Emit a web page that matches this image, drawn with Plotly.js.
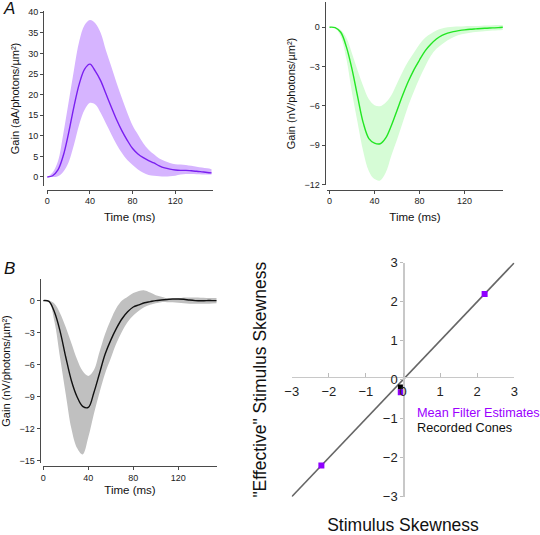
<!DOCTYPE html>
<html>
<head>
<meta charset="utf-8">
<script src="https://cdn.plot.ly/plotly-3.0.1.min.js"></script>
<style>html,body{margin:0;padding:0;background:#fff;}#chart{width:540px;height:535px;}</style>
</head>
<body>
<div id="chart"></div>
<script>
// ---------- DATA ----------
const timeA = [0,5,10,15,20,25,30,35,40,45,50,55,60,65,70,75,80,85,90,95,100,105,110,115,120,125,130,135,140,145,150,154];

// Panel A left (current, purple)
const currentMean  = [0,0.3,1.7,5.2,10.7,17.1,22.6,26.2,27.4,25.7,23.4,20.2,17.0,13.9,11.2,8.9,6.9,5.6,4.7,4.0,3.4,2.7,2.2,1.9,1.7,1.6,1.6,1.5,1.4,1.25,1.1,1.0];
const currentUpper = [0,1.1,3.8,10.5,18.2,26.0,33.0,36.9,38.1,37.3,35.0,30.7,26.8,22.8,19.1,15.6,12.5,10.3,8.2,6.6,5.5,4.5,3.9,3.4,3.1,3.0,2.9,2.7,2.5,2.3,2.1,1.9];
const currentLower = [0,0,0.2,1.3,3.6,7.8,12.8,16.3,18.0,17.6,15.6,13.0,10.4,7.9,5.8,4.1,2.9,1.8,1.0,0.5,0.3,0.2,0.1,0.15,0.3,0.6,0.7,0.7,0.65,0.6,0.6,0.6];

// Panel A right (voltage, green)
const voltMean  = [0,-0.03,-0.38,-1.5,-3.2,-5.3,-7.3,-8.5,-8.85,-8.9,-8.45,-7.5,-6.35,-5.2,-4.15,-3.25,-2.5,-1.8,-1.3,-0.9,-0.62,-0.45,-0.33,-0.26,-0.2,-0.15,-0.12,-0.09,-0.07,-0.05,-0.03,0];
const voltUpper = [0,0,-0.2,-0.8,-2.0,-3.3,-4.5,-5.5,-5.95,-6.03,-5.75,-5.2,-4.3,-3.4,-2.6,-1.95,-1.3,-0.8,-0.5,-0.25,-0.1,0,0.03,0.05,0.07,0.09,0.1,0.12,0.13,0.15,0.17,0.18];
const voltLower = [0,-0.05,-0.7,-2.4,-5.0,-7.3,-9.5,-11.0,-11.6,-11.7,-11.1,-9.8,-8.6,-7.3,-6.0,-4.9,-3.9,-3.0,-2.2,-1.65,-1.3,-1.0,-0.77,-0.6,-0.5,-0.42,-0.36,-0.32,-0.28,-0.25,-0.22,-0.2];

// Panel B (black / gray)
const timeB = [0,5,10,15,20,25,30,35,40,45,50,55,60,65,70,75,80,85,90,95,100,105,110,115,120,125,130,135,140,145,150,154];
const coneMean  = [0,-0.08,-1.1,-2.9,-5.3,-7.5,-9.0,-9.9,-10.0,-8.6,-6.8,-5.0,-3.7,-2.6,-1.7,-1.05,-0.6,-0.4,-0.2,-0.1,0,0.05,0.1,0.15,0.15,0.12,0.05,0,-0.02,0,0,0];
const coneUpper = [0,0,-0.3,-1.2,-2.5,-4.0,-5.5,-6.6,-7.05,-6.5,-4.8,-3.1,-1.8,-0.7,0,0.35,0.7,0.9,0.95,0.75,0.5,0.35,0.2,0.15,0.2,0.28,0.3,0.28,0.26,0.25,0.25,0.25];
const coneLower = [0,-0.1,-2.0,-5.4,-8.8,-12.0,-13.8,-14.4,-12.8,-10.6,-8.6,-6.8,-5.4,-4.0,-2.9,-2.0,-1.4,-0.95,-0.6,-0.4,-0.25,-0.15,-0.15,-0.15,-0.2,-0.25,-0.3,-0.3,-0.3,-0.3,-0.27,-0.25];

// Skewness panel
const unityX = [-3, 3];
const unityY = [-3, 3];
const meanFilterX = [2.2, -2.2, -0.06];
const meanFilterY = [2.2, -2.2, -0.32];
const recordedX = [-0.07];
const recordedY = [-0.19];
const timeTicks = [0, 40, 80, 120];
const currentTicks = [0, 5, 10, 15, 20, 25, 30, 35, 40];
const voltTicksA = [0, -3, -6, -9, -12];
const voltTicksB = [0, -3, -6, -9, -12, -15];
const skewTicks = [-3, -2, -1, 0, 1, 2, 3];

// ---------- LAYOUT HELPERS ----------
const W = 540, H = 535;
const dx = (a, b) => [a / W, b / W];
const dy = (top, bot) => [1 - bot / H, 1 - top / H];
const FONT = 'Liberation Sans, Arial, sans-serif';
const AXC = '#4a4a4a';

function band(t, lo, hi, mean, xa, ya, fillc, linec) {
  return [
    {x: t, y: lo, xaxis: xa, yaxis: ya, mode: 'lines', line: {width: 0, shape: 'spline'}, showlegend: false, hoverinfo: 'skip'},
    {x: t, y: hi, xaxis: xa, yaxis: ya, mode: 'lines', line: {width: 0, shape: 'spline'}, fill: 'tonexty', fillcolor: fillc, showlegend: false, hoverinfo: 'skip'},
    {x: t, y: mean, xaxis: xa, yaxis: ya, mode: 'lines', line: {width: 1.4, color: linec, shape: 'spline'}, showlegend: false}
  ];
}

const traces = [].concat(
  band(timeA, currentLower, currentUpper, currentMean, 'x', 'y', 'rgb(214,180,255)', '#7a1ff0'),
  band(timeA, voltLower, voltUpper, voltMean, 'x2', 'y2', 'rgb(214,252,214)', '#22e622'),
  band(timeB, coneLower, coneUpper, coneMean, 'x3', 'y3', 'rgb(192,192,192)', '#111111'),
  [
    {x: unityX, y: unityY, xaxis: 'x4', yaxis: 'y4', mode: 'lines', line: {color: '#666666', width: 1.6}, showlegend: false},
    {x: recordedX, y: recordedY, xaxis: 'x4', yaxis: 'y4', mode: 'markers', marker: {symbol: 'square', size: 5, color: '#000000'}, name: 'Recorded Cones', showlegend: false},
    {x: meanFilterX, y: meanFilterY, xaxis: 'x4', yaxis: 'y4', mode: 'markers', marker: {symbol: 'square', size: 6, color: '#8f00ff'}, name: 'Mean Filter Estimates', showlegend: false}
  ]
);

function timeAxis(domain, range, posY, standoff) {
  return {
    domain: domain, range: range, anchor: 'free', position: 1 - posY / H,
    tickvals: timeTicks, ticks: 'outside', ticklen: 3, tickcolor: AXC, tickwidth: 1,
    showline: true, linecolor: AXC, linewidth: 1, showgrid: false, zeroline: false,
    tickfont: {size: 9, color: '#222', family: FONT},
    title: {text: 'Time (ms)', font: {size: 11.5, color: '#111', family: FONT}, standoff: standoff}
  };
}
function gainAxis(domain, range, posX, ticks, unit) {
  return {
    domain: domain, range: range, anchor: 'free', position: posX / W,
    tickvals: ticks, ticks: 'outside', ticklen: 3, tickcolor: AXC, tickwidth: 1,
    showline: true, linecolor: AXC, linewidth: 1, showgrid: false, zeroline: false,
    tickfont: {size: 9, color: '#222', family: FONT},
    title: {text: 'Gain (' + unit + '/photons/µm²)', font: {size: 11, color: '#111', family: FONT}, standoff: 5}
  };
}

const layout = {
  width: W, height: H,
  margin: {l: 0, r: 0, t: 0, b: 0},
  paper_bgcolor: '#ffffff', plot_bgcolor: 'rgba(0,0,0,0)',
  font: {family: FONT, color: '#111'},
  showlegend: false,
  xaxis: timeAxis(dx(46.5, 212.7), [-0.75, 155.1], 189.5, 7),
  yaxis: gainAxis(dy(11, 186), [-2.19, 40.3], 43, currentTicks, 'aA'),
  xaxis2: timeAxis(dx(327, 503), [-2.22, 154.2], 189.5, 7),
  yaxis2: gainAxis(dy(2, 185), [-12.05, 1.93], 324.5, voltTicksA, 'nV'),
  xaxis3: timeAxis(dx(42.7, 217.3), [-0.53, 154.7], 466, 4),
  yaxis3: gainAxis(dy(279, 463), [-15.2, 2.02], 39.5, voltTicksB, 'nV'),
  xaxis4: {
    domain: dx(291.7, 514.3), range: [-3, 3], anchor: 'free', position: 1 - 376.7 / H,
    tickvals: skewTicks, ticks: 'inside', ticklen: 4, tickcolor: '#bbbbbb', tickwidth: 1,
    showline: true, linecolor: '#c8c8c8', linewidth: 1.2, showgrid: false, zeroline: false,
    tickfont: {size: 13, color: '#222', family: FONT}, ticklabelstandoff: 2,
    title: {text: 'Stimulus Skewness', font: {size: 17.5, color: '#111', family: FONT}, standoff: 123}
  },
  yaxis4: {
    domain: dy(262.7, 496.7), range: [-3, 3], anchor: 'free', position: 403.3 / W,
    tickvals: skewTicks, ticks: 'outside', ticklen: 3, tickcolor: '#bbbbbb', tickwidth: 1,
    showline: true, linecolor: '#c8c8c8', linewidth: 1.2, showgrid: false, zeroline: false,
    tickfont: {size: 13, color: '#222', family: FONT},
    title: {text: '"Effective" Stimulus Skewness', font: {size: 17.5, color: '#111', family: FONT}, standoff: 110}
  },
  annotations: [
    {text: 'A', x: 9 / W, y: 1 - 9 / H, xref: 'paper', yref: 'paper', xanchor: 'center', yanchor: 'middle', showarrow: false, font: {size: 17, color: '#111', family: FONT, style: 'italic'}},
    {text: 'B', x: 9 / W, y: 1 - 268 / H, xref: 'paper', yref: 'paper', xanchor: 'center', yanchor: 'middle', showarrow: false, font: {size: 17, color: '#111', family: FONT, style: 'italic'}},
    {text: 'Mean Filter Estimates', x: 415 / W, y: 1 - 412.7 / H, xref: 'paper', yref: 'paper', xanchor: 'left', yanchor: 'middle', showarrow: false, font: {size: 12.7, color: '#9b00ff', family: FONT}},
    {text: 'Recorded Cones', x: 415 / W, y: 1 - 428.3 / H, xref: 'paper', yref: 'paper', xanchor: 'left', yanchor: 'middle', showarrow: false, font: {size: 12.7, color: '#111', family: FONT}}
  ]
};

Plotly.newPlot('chart', traces, layout, {staticPlot: true, displayModeBar: false});
</script>
</body>
</html>
